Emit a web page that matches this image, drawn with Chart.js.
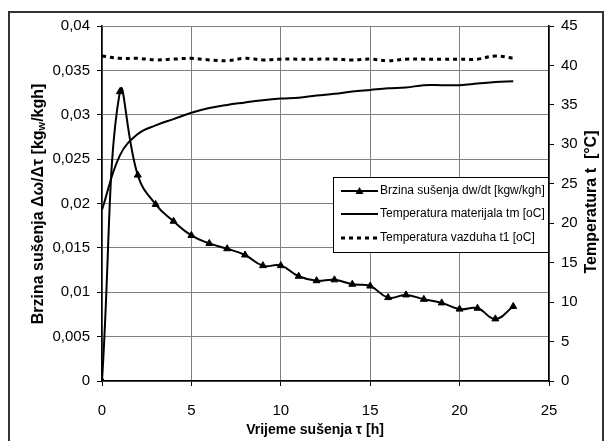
<!DOCTYPE html>
<html>
<head>
<meta charset="utf-8">
<title>Brzina sušenja</title>
<script src="https://cdn.jsdelivr.net/npm/chart.js@4.4.1/dist/chart.umd.min.js"></script>
<style>
  html, body { margin: 0; padding: 0; background: #fff; }
  #wrap { width: 607px; height: 441px; }
</style>
</head>
<body>
<div id="wrap"><canvas id="dryingChart" width="607" height="441"></canvas></div>
<script>
// drying time [h]
const hours = [0, 1, 2, 3, 4, 5, 6, 7, 8, 9, 10, 11, 12, 13, 14, 15, 16, 17, 18, 19, 20, 21, 22, 23];
// drying rate dw/dt [kgw/kgh]
const dryingRate = [0, 0.0326, 0.0232, 0.0199, 0.0180, 0.0164, 0.0155, 0.0149, 0.0142, 0.0130, 0.0130,
  0.0118, 0.0113, 0.0114, 0.0109, 0.0107, 0.0094, 0.0097, 0.0092, 0.0088, 0.0081, 0.0082, 0.0070, 0.0084];
// material temperature tm [oC]
const materialTemp = [21.7, 28.6, 31.3, 32.4, 33.2, 34.0, 34.6, 35.0, 35.3, 35.6, 35.8, 35.9,
  36.2, 36.4, 36.7, 36.9, 37.1, 37.2, 37.5, 37.5, 37.5, 37.7, 37.9, 38.0];
// air temperature t1 [oC]
const airTemp = [41.2, 40.9, 40.9, 40.7, 40.8, 40.9, 40.7, 40.6, 40.9, 40.7, 40.8, 40.8,
  40.8, 40.8, 40.7, 40.8, 40.6, 40.8, 40.8, 40.8, 40.8, 40.8, 41.2, 40.9];

const xTickLabels = ['0', '5', '10', '15', '20', '25'];
const leftTickLabels = ['0', '0,005', '0,01', '0,015', '0,02', '0,025', '0,03', '0,035', '0,04'];
const rightTickLabels = ['0', '5', '10', '15', '20', '25', '30', '35', '40', '45'];

const seriesNames = [
  'Brzina sušenja dw/dt [kgw/kgh]',
  'Temperatura materijala tm [oC]',
  'Temperatura vazduha t1 [oC]'
];
const xTitle = 'Vrijeme sušenja τ [h]';
const rightTitle = 'Temperatura t  [°C]';

const FONT = '"Liberation Sans", Arial, sans-serif';

function toPoints(ys) {
  return hours.map((h, i) => ({ x: h, y: ys[i] }));
}

// text drawn in pieces so the subscript w can be smaller and lowered
function drawParts(ctx, parts, cx, cy, rot) {
  ctx.save();
  ctx.translate(cx, cy);
  ctx.rotate(rot);
  let total = 0;
  parts.forEach(p => { ctx.font = p.font; p.w = ctx.measureText(p.text).width; total += p.w; });
  let x = -total / 2;
  ctx.textBaseline = 'middle';
  ctx.textAlign = 'left';
  ctx.fillStyle = '#000';
  parts.forEach(p => {
    ctx.font = p.font;
    ctx.fillText(p.text, x, p.dy || 0);
    x += p.w;
  });
  ctx.restore();
}

const decorPlugin = {
  id: 'decor',
  afterDraw(chart) {
    const ctx = chart.ctx;
    const area = chart.chartArea;

    // outer frame
    ctx.save();
    ctx.strokeStyle = '#333';
    ctx.lineWidth = 2;
    ctx.strokeRect(9, 12, 594, 440);
    ctx.restore();

    // axis titles
    const bold = 'bold 16px ' + FONT;
    drawParts(ctx, [
      { text: 'Brzina sušenja Δω/Δτ [kg', font: bold },
      { text: 'w', font: 'bold 11px ' + FONT, dy: 3 },
      { text: '/kgh]', font: bold }
    ], 39, 204, -Math.PI / 2);
    drawParts(ctx, [{ text: rightTitle, font: bold }], 592, 202, -Math.PI / 2);
    drawParts(ctx, [{ text: xTitle, font: 'bold 14px ' + FONT }], 315, 430, 0);

    // legend box
    const bx = 333, by = 177, bw = 215, bh = 75;
    ctx.save();
    ctx.fillStyle = '#fff';
    ctx.fillRect(bx, by, bw, bh);
    ctx.strokeStyle = '#000';
    ctx.lineWidth = 1;
    ctx.strokeRect(bx + 0.5, by + 0.5, bw, bh);
    const rows = [191, 214, 238];
    ctx.font = '12px ' + FONT;
    ctx.textBaseline = 'middle';
    ctx.fillStyle = '#000';
    chart.data.datasets.forEach((ds, i) => {
      const y = rows[i];
      ctx.save();
      ctx.strokeStyle = '#000';
      ctx.lineWidth = ds.borderWidth;
      ctx.setLineDash(ds.borderDash || []);
      ctx.beginPath();
      ctx.moveTo(341, y);
      ctx.lineTo(378, y);
      ctx.stroke();
      ctx.restore();
      if (ds.pointRadius > 0) {
        ctx.beginPath();
        ctx.moveTo(359.5, y - 4);
        ctx.lineTo(363.5, y + 3);
        ctx.lineTo(355.5, y + 3);
        ctx.closePath();
        ctx.fill();
      }
      ctx.fillText(ds.label, 380, y);
    });
    ctx.restore();
  }
};

const ctx = document.getElementById('dryingChart');
new Chart(ctx, {
  type: 'line',
  data: {
    datasets: [
      {
        label: seriesNames[0],
        data: toPoints(dryingRate),
        yAxisID: 'y',
        borderColor: '#000',
        borderWidth: 2,
        pointStyle: 'triangle',
        pointRadius: 4,
        pointBackgroundColor: '#000',
        pointBorderColor: '#000',
        pointBorderWidth: 1,
        tension: 0.45,
        fill: false
      },
      {
        label: seriesNames[1],
        data: toPoints(materialTemp),
        yAxisID: 'y1',
        borderColor: '#000',
        borderWidth: 2,
        pointRadius: 0,
        tension: 0.4,
        fill: false
      },
      {
        label: seriesNames[2],
        data: toPoints(airTemp),
        yAxisID: 'y1',
        borderColor: '#000',
        borderWidth: 3,
        borderDash: [4, 4],
        pointRadius: 0,
        tension: 0.4,
        fill: false
      }
    ]
  },
  options: {
    responsive: false,
    animation: false,
    devicePixelRatio: 1,
    layout: { padding: { top: 26, left: 0, right: 0, bottom: 0 } },
    plugins: {
      legend: { display: false },
      tooltip: { enabled: false }
    },
    scales: {
      x: {
        type: 'linear',
        position: 'bottom',
        min: 0,
        max: 25,
        ticks: {
          stepSize: 5,
          color: '#000',
          font: { family: FONT, size: 15 },
          padding: 16,
          maxRotation: 0,
          callback: (v, i) => xTickLabels[i]
        },
        grid: { color: '#808080', lineWidth: 1, tickColor: '#000', tickLength: 5 },
        border: { color: '#000', width: 1.5 },
        afterFit: s => { s.height = 60; }
      },
      y: {
        position: 'left',
        min: 0,
        max: 0.04,
        ticks: {
          stepSize: 0.005,
          color: '#000',
          font: { family: FONT, size: 15 },
          padding: 7,
          callback: (v, i) => leftTickLabels[i]
        },
        grid: { color: '#808080', lineWidth: 1, tickColor: '#000', tickLength: 5 },
        border: { color: '#000', width: 1.5 },
        afterFit: s => { s.width = 102; }
      },
      y1: {
        position: 'right',
        min: 0,
        max: 45,
        ticks: {
          stepSize: 5,
          color: '#000',
          font: { family: FONT, size: 15 },
          padding: 7,
          callback: (v, i) => rightTickLabels[i]
        },
        grid: { drawOnChartArea: false, tickColor: '#000', tickLength: 5 },
        border: { color: '#000', width: 1.5 },
        afterFit: s => { s.width = 58; }
      }
    }
  },
  plugins: [decorPlugin]
});
</script>
</body>
</html>
